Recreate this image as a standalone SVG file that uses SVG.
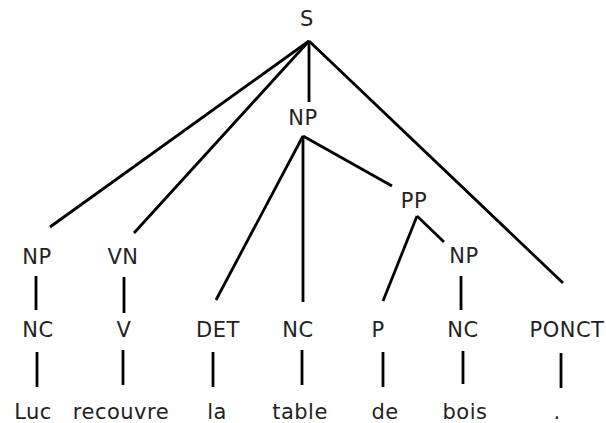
<svg xmlns="http://www.w3.org/2000/svg" width="606" height="423" viewBox="0 0 606 423">
<style>
text{font-family:"DejaVu Sans",sans-serif;font-size:21px;fill:#222;text-anchor:middle;letter-spacing:0.5px}
.e line{stroke:#000;stroke-width:2.8;stroke-linecap:butt}
</style>
<rect width="606" height="423" fill="#fff"/>
<g class="e" id="connectors">
<line x1="309" y1="41" x2="50" y2="227"/>
<line x1="309" y1="41" x2="134" y2="233"/>
<line x1="309" y1="41" x2="309" y2="102"/>
<line x1="309" y1="41" x2="563" y2="283"/>
<line x1="303" y1="136" x2="216" y2="300"/>
<line x1="303" y1="136" x2="303" y2="302"/>
<line x1="303" y1="136" x2="392" y2="186"/>
<line x1="417" y1="216" x2="383" y2="301"/>
<line x1="417" y1="216" x2="444" y2="242"/>
<line x1="36" y1="276" x2="36" y2="310"/>
<line x1="37" y1="352" x2="37" y2="387"/>
<line x1="124" y1="277" x2="124" y2="313"/>
<line x1="123" y1="350" x2="123" y2="385"/>
<line x1="213" y1="352" x2="213" y2="387"/>
<line x1="302" y1="350" x2="302" y2="385"/>
<line x1="383" y1="352" x2="383" y2="387"/>
<line x1="461" y1="276" x2="461" y2="310"/>
<line x1="463" y1="351" x2="463" y2="384"/>
<line x1="561" y1="353" x2="561" y2="388"/>
</g>
<g id="n-S"><text x="307" y="26">S</text></g>
<g id="n-NP1"><text x="303" y="125">NP</text></g>
<g id="n-PP"><text x="414" y="208">PP</text></g>
<g id="n-NP0"><text x="37" y="264">NP</text></g>
<g id="n-VN"><text x="123" y="264">VN</text></g>
<g id="n-NP2"><text x="464" y="263">NP</text></g>
<g id="n-NC0"><text x="38" y="337">NC</text></g>
<g id="n-V"><text x="124" y="337">V</text></g>
<g id="n-DET"><text x="218" y="337">DET</text></g>
<g id="n-NC1"><text x="298" y="337">NC</text></g>
<g id="n-P"><text x="378" y="337">P</text></g>
<g id="n-NC2"><text x="463" y="337">NC</text></g>
<g id="n-PONCT"><text x="567" y="337">PONCT</text></g>
<g id="w-Luc"><text x="33" y="419">Luc</text></g>
<g id="w-recouvre"><text x="121" y="419">recouvre</text></g>
<g id="w-la"><text x="217" y="419">la</text></g>
<g id="w-table"><text x="300" y="419">table</text></g>
<g id="w-de"><text x="385" y="419">de</text></g>
<g id="w-bois"><text x="465" y="419">bois</text></g>
<g id="w-dot"><text x="557" y="419">.</text></g>
</svg>
